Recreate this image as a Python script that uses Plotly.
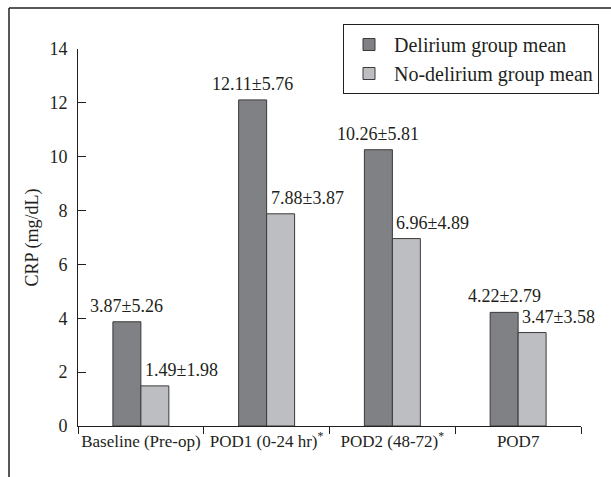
import plotly.graph_objects as go

categories = ["Baseline (Pre-op)", "POD1 (0-24 hr)<sup>*</sup>", "POD2 (48-72)<sup>*</sup>", "POD7"]
delirium_mean = [3.87, 12.11, 10.26, 4.22]
delirium_sd = [5.26, 5.76, 5.81, 2.79]
no_delirium_mean = [1.49, 7.88, 6.96, 3.47]
no_delirium_sd = [1.98, 3.87, 4.89, 3.58]
y_ticks = [0, 2, 4, 6, 8, 10, 12, 14]

FONT = "Liberation Serif"
DARK = "#808184"
LIGHT = "#bdbec1"
EDGE = "#3a3a3a"
TXT = "#231f20"

W, H = 611, 477
L, R, T, B = 78, 30, 49, 51

fig = go.Figure()
fig.add_trace(go.Bar(x=categories, y=delirium_mean, name="Delirium group mean",
                     marker=dict(color=DARK, line=dict(color=EDGE, width=1))))
fig.add_trace(go.Bar(x=categories, y=no_delirium_mean, name="No-delirium group mean",
                     marker=dict(color=LIGHT, line=dict(color=EDGE, width=1))))

for c, m, s in zip(categories, delirium_mean, delirium_sd):
    fig.add_annotation(x=c, y=m, text=f"{m:.2f}±{s:.2f}", showarrow=False,
                       xanchor="center", yanchor="bottom", xshift=-14, yshift=4,
                       font=dict(family=FONT, size=18, color=TXT))
for c, m, s in zip(categories, no_delirium_mean, no_delirium_sd):
    fig.add_annotation(x=c, y=m, text=f"{m:.2f}±{s:.2f}", showarrow=False,
                       xanchor="left", yanchor="bottom", xshift=2, yshift=4,
                       font=dict(family=FONT, size=18, color=TXT))

# outer frame (partially visible border of the figure panel)
pw, ph = W - L - R, H - T - B
def px_x(p):
    return (p - L) / pw
def px_y(p):
    return (H - B - p) / ph
fig.add_shape(type="line", xref="paper", yref="paper", x0=px_x(9), x1=px_x(W + 5),
              y0=px_y(8), y1=px_y(8), line=dict(color=TXT, width=1.5))
fig.add_shape(type="line", xref="paper", yref="paper", x0=px_x(9), x1=px_x(9),
              y0=px_y(8), y1=px_y(H + 5), line=dict(color=TXT, width=1.5))

fig.update_layout(
    width=W, height=H,
    margin=dict(l=L, r=R, t=T, b=B, autoexpand=False),
    paper_bgcolor="white", plot_bgcolor="white",
    barmode="group", bargap=0.555, bargroupgap=0,
    font=dict(family=FONT, size=18, color=TXT),
    showlegend=True,
    legend=dict(x=px_x(343), y=px_y(24), xanchor="left", yanchor="top",
                bordercolor=TXT, borderwidth=1, bgcolor="white",
                font=dict(family=FONT, size=20, color=TXT),
                itemwidth=40, tracegroupgap=0),
    xaxis=dict(type="category", range=[-0.5, 3.5], showline=True, linecolor=TXT, linewidth=1,
               ticks="outside", ticklen=7, tickcolor=TXT, tickson="boundaries",
               tickangle=0, showgrid=False, zeroline=False, automargin=False,
               tickfont=dict(family=FONT, size=17, color=TXT)),
    yaxis=dict(range=[0, 14], tickvals=y_ticks, showline=True, linecolor=TXT,
               linewidth=1, ticks="inside", ticklen=8, tickcolor=TXT,
               showgrid=False, zeroline=False, ticklabelstandoff=6, automargin=False,
               title=dict(text="CRP (mg/dL)", font=dict(family=FONT, size=18, color=TXT), standoff=6),
               tickfont=dict(family=FONT, size=18, color=TXT)),
)

fig.write_html("out.html", config={"displayModeBar": False},
               post_script="document.body.style.margin='0px';")
